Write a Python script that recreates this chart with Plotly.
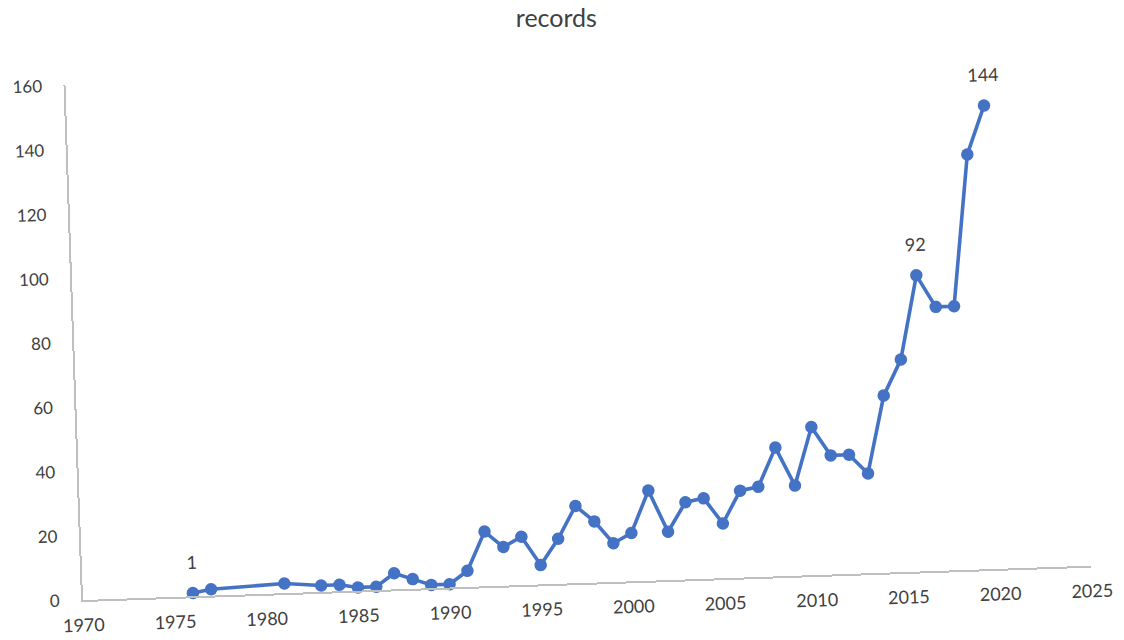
import plotly.graph_objects as go

# Yearly record counts
years = [1976, 1977, 1981,
         1983, 1984, 1985, 1986, 1987, 1988, 1989, 1990, 1991,
         1992, 1993, 1994, 1995, 1996, 1997, 1998, 1999, 2000,
         2001, 2002, 2003, 2004, 2005, 2006, 2007, 2008, 2009, 2010,
         2011, 2012, 2013, 2014, 2015, 2016, 2017, 2018, 2019, 2020]
records = [1, 2, 3,
           2, 2, 1, 1, 5, 3, 1, 1, 5,
           17, 12, 15, 6, 14, 24, 19, 12, 15,
           28, 15, 24, 25, 17, 27, 28, 40, 28, 46,
           37, 37, 31, 55, 66, 92, 82, 82, 129, 144]

# Years whose value is printed above the point
labelled_years = [1976, 2016, 2020]

x_ticks = list(range(1970, 2030, 5))
y_ticks = list(range(0, 180, 20))

BLUE = "#4472C4"
AXIS_GREY = "#BFBFBF"
TEXT = "#404040"
FONT = "Lato"

lab_x = [y for y in years if y in labelled_years]
lab_y = [v for y, v in zip(years, records) if y in labelled_years]

fig = go.Figure()
fig.add_trace(go.Scatter(
    x=years, y=records, mode="lines+markers",
    line=dict(color=BLUE, width=3.6),
    marker=dict(color=BLUE, size=12.5),
    cliponaxis=False, showlegend=False,
))
# value labels, lifted above the dots by a transparent marker
fig.add_trace(go.Scatter(
    x=lab_x, y=lab_y, mode="markers+text",
    text=[str(v) for v in lab_y], textposition="top center",
    textfont=dict(family=FONT, size=18, color=TEXT),
    marker=dict(size=30, color="rgba(0,0,0,0)"),
    cliponaxis=False, showlegend=False, hoverinfo="skip",
))

fig.update_layout(
    width=1124, height=640,
    margin=dict(l=83, r=32, t=85, b=40),
    paper_bgcolor="white", plot_bgcolor="white",
    font=dict(family=FONT, color=TEXT),
    title=dict(text="records", x=0.495, xref="container", xanchor="center",
               y=0.972, yref="container", yanchor="middle",
               font=dict(family=FONT, size=25, color=TEXT)),
)
fig.update_xaxes(
    range=[1970, 2025], tickvals=x_ticks, showgrid=False, zeroline=False,
    showline=True, linecolor=AXIS_GREY, linewidth=2, ticks="",
    automargin=False,
    ticklabelstandoff=8, tickfont=dict(family=FONT, size=18, color=TEXT),
)
fig.update_yaxes(
    range=[0, 160], tickvals=y_ticks, showgrid=False, zeroline=False,
    showline=True, linecolor=AXIS_GREY, linewidth=2, ticks="",
    automargin=False,
    ticklabelstandoff=18, tickfont=dict(family=FONT, size=17, color=TEXT),
)

# the plotting area is drawn slightly tilted, pivoting on the axis corner
tilt = """
var gd = document.getElementById('{plot_id}');
gd.querySelectorAll('.cartesianlayer').forEach(function (el) {
    el.setAttribute('transform', 'rotate(-1.95 83 600)');
});
"""

fig.write_html("out.html", post_script=tilt)
